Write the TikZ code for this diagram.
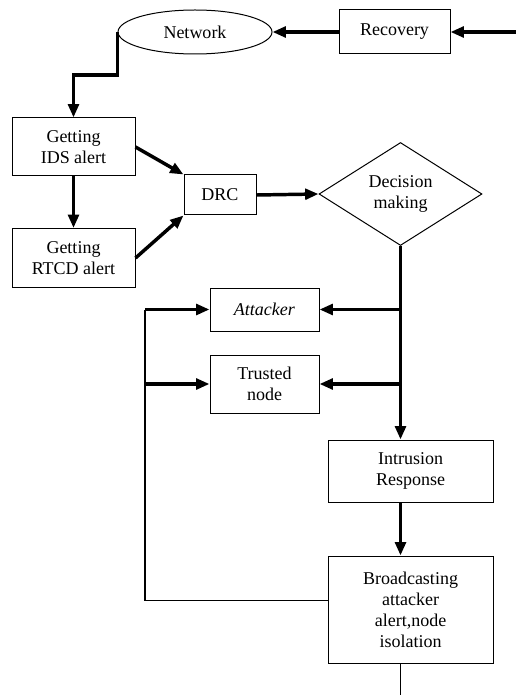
\documentclass[tikz,border=0pt]{standalone}
\usepackage{fontspec}
\setmainfont{Liberation Serif}
\newfontfamily\tmsfont{Liberation Serif}
\usetikzlibrary{shapes.geometric}
\usetikzlibrary{arrows.meta}

\begin{document}
\begin{tikzpicture}[x=0.75pt, y=-0.75pt,
    box/.style={draw=black, line width=0.75pt, align=center, inner sep=0pt, font=\tmsfont\fontsize{13.5}{15.75}\selectfont},
    thk/.style={line width=2.6pt},
    thn/.style={line width=0.9pt},
    tip/.style={-{Triangle[length=10pt,width=8pt]}}]
\useasboundingbox (0,0) rectangle (516,695);
\node[box, ellipse, minimum width=115.5pt, minimum height=33pt] (net) at (195,32) {Network};
\node[box, minimum width=83.25pt, minimum height=33pt] (rec) at (394.5,32) {Recovery};
\node[box, minimum width=92.25pt, minimum height=43.5pt] (ids) at (73.5,147) {Getting\\IDS alert};
\node[box, minimum width=92.25pt, minimum height=44.25pt] (rtcd) at (73.5,258) {Getting\\RTCD alert};
\node[box, minimum width=54pt, minimum height=30pt] (drc) at (220,195) {DRC};
\node[box, diamond, minimum width=122.25pt, minimum height=77.25pt] (dec) at (400.5,194) {Decision\\making};
\node[box, minimum width=81.75pt, minimum height=32.25pt] (att) at (264.5,309.5) {\textit{Attacker}};
\node[box, minimum width=81.75pt, minimum height=43.5pt] (trn) at (264.5,384) {Trusted\\node};
\node[box, minimum width=123.75pt, minimum height=46.5pt] (ir) at (410.5,471) {Intrusion\\Response};
\node[box, minimum width=123.75pt, minimum height=80.25pt] (bc) at (410.5,609.5) {Broadcasting\\attacker\\alert,node\\isolation};
\coordinate (inr) at (516,32);
\coordinate (lft) at (145,308);
\coordinate (out) at (400.5,695);
\draw[thk,tip] (inr) -- (rec.east);
\draw[thk,tip] (rec.west) -- (net.east);
\draw[thk,tip] (net.west) -- ++(0,43) -| (ids.north);
\draw[thk,tip] (ids.south) -- (rtcd.north);
\draw[thk,tip] (ids.east) -- (drc.north west);
\draw[thk,tip] (rtcd.east) -- (drc.south west);
\draw[thk,tip] (drc.east) -- (dec.west);
\draw[thk,tip] (dec.south) -- (dec.south |- ir.north);
\draw[thk,tip] (dec.south |- att.east) -- (att.east);
\draw[thk,tip] (dec.south |- trn.east) -- (trn.east);
\draw[thk,tip] (ir.south -| dec.south) -- (bc.north -| dec.south);
\draw[thn] ([yshift=7pt]bc.west) -| (lft |- att.west);
\draw[thk,tip] (lft |- att.west) -- (att.west);
\draw[thk,tip] (lft |- trn.west) -- (trn.west);
\draw[thn] (bc.south -| out) -- (out);
\end{tikzpicture}
\end{document}
